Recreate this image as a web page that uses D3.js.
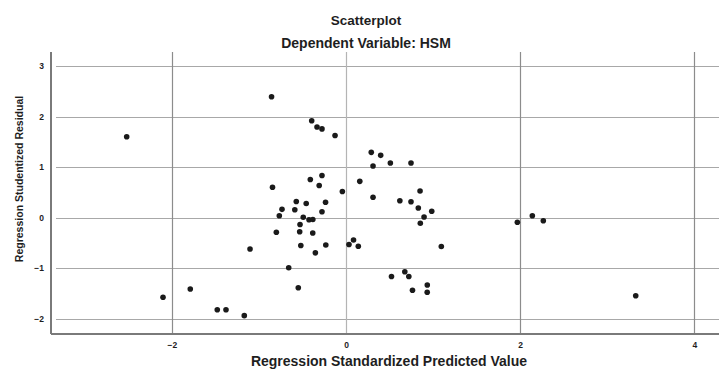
<!DOCTYPE html>
<html>
<head>
<meta charset="utf-8">
<script src="https://d3js.org/d3.v7.min.js"></script>
<style>
  body { margin: 0; background: #fff; }
  text { font-family: "Liberation Sans", Arial, sans-serif; fill: #1e1e1e; }
</style>
</head>
<body>
<div id="chartGoesHere"></div>
<script>
// residual scatterplot (SPSS style)

var predVals = [
  -2.518, -0.855, -0.394, -0.333, -0.276, -0.126, 0.290, 0.398, 0.310, 0.509,
  0.746, -0.276, -0.410, -0.308, -0.844, 0.158, -0.042, 0.310, 0.850, 0.618,
  0.746, 0.830, 0.984, 0.896, 0.853, -0.571, -0.457, -0.235, -0.735, -0.588,
  -0.276, -0.766, -0.491, -0.425, -0.381, -0.528, -0.800, -0.532, -0.382, -1.102,
  -0.519, -0.232, -0.352, 0.034, 0.086, 0.141, 1.094, -0.658, -0.548, -2.101,
  -1.788, -1.478, -1.378, -1.168, 0.522, 0.675, 0.721, 0.933, 0.763, 0.932,
  1.967, 2.139, 2.265, 3.326
];
var residVals = [
  1.601, 2.393, 1.918, 1.793, 1.757, 1.625, 1.292, 1.233, 1.021, 1.081,
  1.081, 0.833, 0.754, 0.635, 0.602, 0.718, 0.517, 0.402, 0.526, 0.334,
  0.315, 0.190, 0.127, 0.012, -0.111, 0.319, 0.279, 0.303, 0.164, 0.156,
  0.117, 0.038, 0.006, -0.042, -0.038, -0.137, -0.291, -0.279, -0.305, -0.621,
  -0.552, -0.542, -0.697, -0.532, -0.443, -0.568, -0.572, -0.991, -1.387, -1.577,
  -1.413, -1.823, -1.823, -1.941, -1.166, -1.073, -1.166, -1.334, -1.439, -1.478,
  -0.093, 0.038, -0.061, -1.546
];
var xTicks = [-2, 0, 2, 4],
    yTicks = [-2, -1, 0, 1, 2, 3];
var chartTitle = "Scatterplot",
    chartSubtitle = "Dependent Variable: HSM",
    xTitle = "Regression Standardized Predicted Value",
    yTitle = "Regression Studentized Residual";

var width = 719, height = 370,
    plot = {left: 51, right: 719, top: 52, bottom: 334},
    radius = 2.8;

var points = predVals.map((d, i) => ({x: d, y: residVals[i]}));

var xScale = d3.scaleLinear().domain([-3.387, 4.282]).range([plot.left, plot.right]);
var yScale = d3.scaleLinear().domain([-2.304, 3.279]).range([plot.bottom, plot.top]);

var svg = d3.select("#chartGoesHere")
  .append("svg")
  .attr("width", width)
  .attr("height", height);

// grid lines
svg.append("g")
  .selectAll("line")
  .data(yTicks)
  .join("line")
    .attr("x1", plot.left + 5)
    .attr("x2", plot.right)
    .attr("y1", d => Math.round(yScale(d)) + 0.5)
    .attr("y2", d => Math.round(yScale(d)) + 0.5)
    .attr("stroke", "#a8a8a8")
    .attr("stroke-width", 1.2);

svg.append("g")
  .selectAll("line")
  .data(xTicks)
  .join("line")
    .attr("x1", d => Math.round(xScale(d)) + 0.5)
    .attr("x2", d => Math.round(xScale(d)) + 0.5)
    .attr("y1", plot.top)
    .attr("y2", plot.bottom)
    .attr("stroke", d => d === 0 ? "#b4b4b4" : "#8c8c8c")
    .attr("stroke-width", 1.2);

// axes (built with d3 axis, then styled)
var xAxis = d3.axisBottom(xScale).tickValues(xTicks).tickSize(0).tickPadding(8)
  .tickFormat(d3.format("d"));
var yAxis = d3.axisLeft(yScale).tickValues(yTicks).tickSize(0).tickPadding(7)
  .tickFormat(d3.format("d"));

var gx = svg.append("g")
  .attr("transform", "translate(0," + plot.bottom + ")")
  .call(xAxis);
var gy = svg.append("g")
  .attr("transform", "translate(" + plot.left + ",0)")
  .call(yAxis);

[gx, gy].forEach(g => {
  g.select(".domain").attr("stroke", "#7a7a7a").attr("stroke-width", 2);
  g.selectAll("text")
    .style("font-size", "8.5px")
    .style("font-weight", "bold")
    .attr("fill", "#2a2a2a");
});
gx.select(".domain").attr("d", "M" + plot.left + ",0H" + plot.right);
gy.select(".domain").attr("d", "M0," + plot.top + "V" + plot.bottom);

// points
svg.append("g")
  .selectAll("circle")
  .data(points)
  .join("circle")
    .attr("cx", d => xScale(d.x))
    .attr("cy", d => yScale(d.y))
    .attr("r", radius)
    .attr("fill", "#1a1a1a");

// titles
svg.append("text")
  .attr("x", 366).attr("y", 25)
  .attr("text-anchor", "middle")
  .style("font-size", "13.5px").style("font-weight", "bold")
  .text(chartTitle);
svg.append("text")
  .attr("x", 366).attr("y", 47.5)
  .attr("text-anchor", "middle")
  .style("font-size", "14px").style("font-weight", "bold")
  .text(chartSubtitle);

svg.append("text")
  .attr("x", 389).attr("y", 366)
  .attr("text-anchor", "middle")
  .style("font-size", "14px").style("font-weight", "bold")
  .text(xTitle);

svg.append("text")
  .attr("transform", "translate(22.5,179) rotate(-90)")
  .attr("text-anchor", "middle")
  .style("font-size", "10.5px").style("font-weight", "bold")
  .text(yTitle);
</script>
</body>
</html>
